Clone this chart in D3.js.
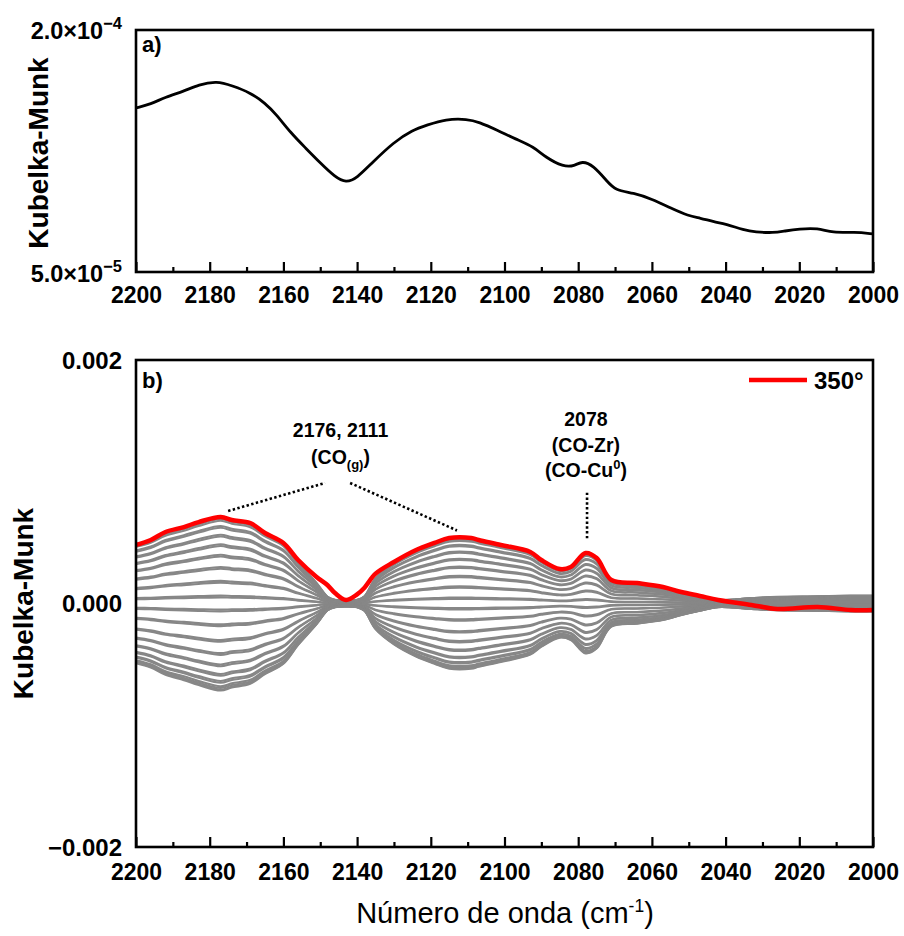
<!DOCTYPE html>
<html><head><meta charset="utf-8">
<script src="https://cdn.jsdelivr.net/npm/d3@7"></script>
<style>
body{margin:0;background:#fff}
svg{display:block}
text{font-family:"Liberation Sans",Arial,Helvetica,sans-serif;fill:#000}
</style>
</head><body><svg id="c" width="904" height="936"></svg>
<script>
// ---------- Panel a) data ----------
const wnA = [2200,2196,2192,2187,2183,2178,2174,2169,2165,2162,2158,2154,2150,2146,2143,2140,2136,2130,2125,2121,2116,2110,2107,2102,2097,2092,2089,2084,2081,2079,2076,2072,2070,2065,2060,2055,2050,2047,2043,2040,2035,2032,2027,2024,2020,2015,2011,2005,2000];
const kmA = [1.517e-4,1.540e-4,1.585e-4,1.620e-4,1.662e-4,1.684e-4,1.655e-4,1.612e-4,1.548e-4,1.479e-4,1.362e-4,1.269e-4,1.176e-4,1.089e-4,1.052e-4,1.083e-4,1.176e-4,1.306e-4,1.380e-4,1.411e-4,1.448e-4,1.448e-4,1.430e-4,1.380e-4,1.324e-4,1.275e-4,1.213e-4,1.151e-4,1.157e-4,1.188e-4,1.163e-4,1.058e-4,1.008e-4,9.90e-5,9.53e-5,8.97e-5,8.47e-5,8.35e-5,8.10e-5,7.98e-5,7.60e-5,7.48e-5,7.42e-5,7.54e-5,7.67e-5,7.73e-5,7.42e-5,7.48e-5,7.36e-5];

// ---------- Panel b) data ----------
const wnB = [2200,2196,2192,2187,2183,2177,2174,2169,2165,2160,2156,2151,2148,2146,2143,2140,2138,2135,2130,2124,2119,2115,2109,2107,2101,2093,2090,2085,2082,2078,2075,2071,2064,2057,2052,2047,2042,2033,2026,2015,2006,2000];
// red spectrum (350°), units of 1e-4
const km350 = [4.81,5.22,5.87,6.28,6.69,7.11,6.86,6.61,5.79,4.97,3.57,2.18,1.50,0.86,0.29,0.75,1.30,2.45,3.41,4.39,4.97,5.38,5.38,5.22,4.81,4.23,3.57,2.83,3.00,4.15,3.74,1.93,1.68,1.36,0.94,0.62,0.29,-0.12,-0.45,-0.29,-0.53,-0.53];
// amplitude envelope of the grey phase-resolved spectra, units of 1e-4
const envelopeB = [4.9,5.25,5.85,6.3,6.7,7.15,6.9,6.6,5.8,4.95,3.4,1.7,0.55,0.3,0.25,0.3,0.6,2.1,3.35,4.35,4.95,5.35,5.35,5.2,4.8,4.2,3.55,2.8,3.0,4.1,3.7,1.9,1.65,1.35,0.95,0.6,0.3,0.45,0.55,0.6,0.65,0.65];
// relative level of the grey spectra (0°…340°) read across the 2177 band
const phaseLevels = [0.99,0.97,0.95,0.89,0.87,0.79,0.77,0.68,0.66,0.56,0.54,0.42,0.40,0.26,0.24,0.09,0.07,-0.07,-0.09,-0.24,-0.26,-0.42,-0.44,-0.57,-0.59,-0.70,-0.72,-0.81,-0.83,-0.89,-0.91,-0.95,-0.97,-0.99,-1.00];

const xMajor = [2200,2180,2160,2140,2120,2100,2080,2060,2040,2020,2000];
const xMinor = [2190,2170,2150,2130,2110,2090,2070,2050,2030,2010];
const legendLabel = "350°";

// annotations (data coordinates)
const annoLines = [[2175,7.6e-4,2148.7,9.9e-4],[2141.9,9.9e-4,2112.9,6.0e-4],[2077.6,9.1e-4,2077.6,5.3e-4]];

// ---------- layout ----------
const svg = d3.select("#c");
const L = 136, R = 873;
const A = {top:30, bottom:272};
const B = {top:360, bottom:847};
const F = '"Liberation Sans",Arial,sans-serif';

const x = d3.scaleLinear().domain([2200,2000]).range([L,R]);
const ya = d3.scaleLinear().domain([5e-5,2e-4]).range([A.bottom,A.top]);
const yb = d3.scaleLinear().domain([-0.002,0.002]).range([B.bottom,B.top]);

function xAxes(g, yPos, pad){
  const gm = g.append("g").attr("transform",`translate(0,${yPos})`)
    .call(d3.axisBottom(x).tickValues(xMajor).tickSize(-10).tickPadding(pad).tickFormat(d3.format("d")));
  gm.select(".domain").remove();
  gm.selectAll(".tick line").attr("stroke","#000").attr("stroke-width",2.2);
  gm.selectAll(".tick text").attr("font-family",F).attr("font-size",23).attr("font-weight","bold").attr("fill","#000");
  const gn = g.append("g").attr("transform",`translate(0,${yPos})`)
    .call(d3.axisBottom(x).tickValues(xMinor).tickSize(-5).tickFormat(""));
  gn.select(".domain").remove();
  gn.selectAll(".tick line").attr("stroke","#000").attr("stroke-width",2.2);
}

// ---------- Panel a ----------
const ga = svg.append("g");
const lineA = d3.line().x((d,i)=>x(wnA[i])).y(d=>ya(d)).curve(d3.curveBasis);
ga.append("path").attr("d",lineA(kmA)).attr("fill","none").attr("stroke","#000").attr("stroke-width",2.8);
xAxes(ga, A.bottom, 15);
ga.append("rect").attr("x",L).attr("y",A.top).attr("width",R-L).attr("height",A.bottom-A.top)
  .attr("fill","none").attr("stroke","#000").attr("stroke-width",2.6);

function sciLabel(g, yPos, mant, exp){
  const t = g.append("text").attr("x",122).attr("y",yPos).attr("text-anchor","end")
    .attr("font-size",23.5).attr("font-weight","bold");
  t.append("tspan").text(mant+"\u00d710");
  t.append("tspan").attr("dy",-10).attr("font-size",16.5).text("\u2212"+exp);
}
sciLabel(ga, ya(2e-4)+9, "2.0", "4");
sciLabel(ga, ya(5e-5)+10, "5.0", "5");

ga.append("text").attr("transform",`translate(48,${(A.top+A.bottom)/2+2}) rotate(-90)`)
  .attr("text-anchor","middle").attr("font-size",28).attr("font-weight","bold").text("Kubelka-Munk");
ga.append("text").attr("x",142).attr("y",52).attr("font-size",22).attr("font-weight","bold").text("a)");

// ---------- Panel b ----------
const gb = svg.append("g");
const lineB = d3.line().x((d,i)=>x(wnB[i])).y(d=>yb(d*1e-4)).curve(d3.curveCatmullRom.alpha(0.5));
gb.append("g").selectAll("path").data(phaseLevels).join("path")
  .attr("d",lv=>lineB(envelopeB.map(e=>e*lv)))
  .attr("fill","none").attr("stroke","#878787").attr("stroke-width",2.1);
gb.append("path").attr("d",lineB(km350)).attr("fill","none").attr("stroke","#ff0000").attr("stroke-width",4.5)
  .attr("stroke-linejoin","round");

xAxes(gb, B.bottom, 17);
gb.append("rect").attr("x",L).attr("y",B.top).attr("width",R-L).attr("height",B.bottom-B.top)
  .attr("fill","none").attr("stroke","#000").attr("stroke-width",2.6);

[0.002,0,-0.002].forEach(v=>{
  gb.append("text").attr("x",122).attr("y",yb(v)+8.5).attr("text-anchor","end")
    .attr("font-size",24).attr("font-weight","bold")
    .text(v===0?"0.000":(v>0?"0.002":"\u22120.002"));
});
gb.append("text").attr("transform",`translate(33,${yb(0)}) rotate(-90)`)
  .attr("text-anchor","middle").attr("font-size",28).attr("font-weight","bold").text("Kubelka-Munk");
gb.append("text").attr("x",142).attr("y",388).attr("font-size",22).attr("font-weight","bold").text("b)");

// annotations
gb.selectAll("line.anno").data(annoLines).join("line").attr("class","anno")
  .attr("x1",d=>x(d[0])).attr("y1",d=>yb(d[1])).attr("x2",d=>x(d[2])).attr("y2",d=>yb(d[3]))
  .attr("stroke","#000").attr("stroke-width",2.6).attr("stroke-dasharray","2.4,2.4");

function annoText(wn, v, parts){
  const t = gb.append("text").attr("x",x(wn)).attr("y",yb(v)).attr("text-anchor","middle")
    .attr("font-size",19.5).attr("font-weight","bold");
  parts.forEach(p=>{
    const s = t.append("tspan").text(p.t);
    if(p.sub){ s.attr("font-size",13).attr("dy",5); }
    if(p.sup){ s.attr("font-size",13).attr("dy",-8); }
    if(p.back){ s.attr("dy",p.back); }
  });
}
annoText(2144.5, 1.368e-3, [{t:"2176, 2111"}]);
annoText(2144.5, 1.146e-3, [{t:"(CO"},{t:"(g)",sub:true},{t:")",back:-5}]);
annoText(2077.9, 1.458e-3, [{t:"2078"}]);
annoText(2077.9, 1.244e-3, [{t:"(CO-Zr)"}]);
annoText(2077.9, 1.039e-3, [{t:"(CO-Cu"},{t:"0",sup:true},{t:")",back:8}]);

// legend
gb.append("line").attr("x1",749).attr("x2",807).attr("y1",380).attr("y2",380)
  .attr("stroke","#ff0000").attr("stroke-width",4.5);
gb.append("text").attr("x",814).attr("y",389).attr("font-size",24).attr("font-weight","bold").text(legendLabel);

// x title
const xt = svg.append("text").attr("x",505).attr("y",923).attr("text-anchor","middle").attr("font-size",29);
xt.append("tspan").text("Número de onda (cm");
xt.append("tspan").attr("dy",-11).attr("font-size",17.5).text("-1");
xt.append("tspan").attr("dy",11).text(")");
</script>
</body></html>
